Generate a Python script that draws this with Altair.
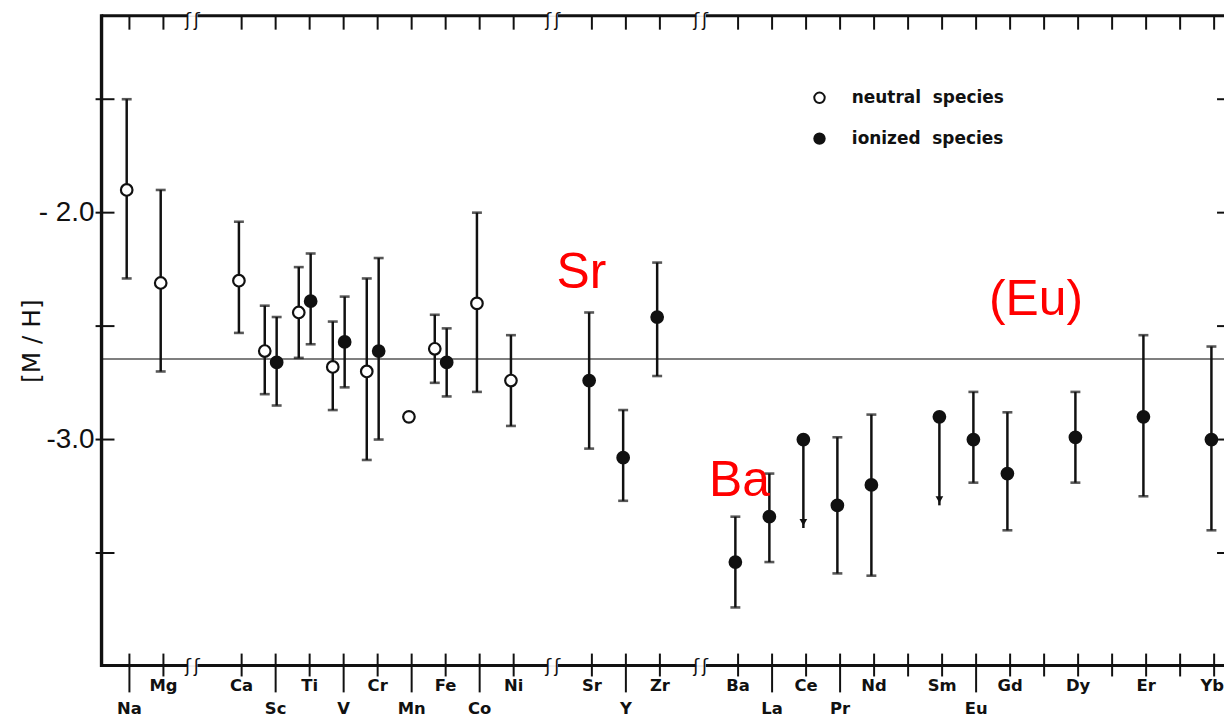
import altair as alt
import pandas as pd

# ---------------- data ----------------
# element groups along the broken abscissa (gaps between groups)
group_elements = [
    ["Na", "Mg"],
    ["Ca", "Sc", "Ti", "V", "Cr", "Mn", "Fe", "Co", "Ni"],
    ["Sr", "Y", "Zr"],
    ["Ba", "La", "Ce", "Pr", "Nd", "Pm", "Sm", "Eu", "Gd", "Tb", "Dy", "Ho", "Er", "Tm", "Yb"],
]
group_starts = [0.0, 3.3, 13.6, 17.9]
axis_breaks = [1.85, 12.45, 16.8]
lower_row = ["Na", "Sc", "V", "Mn", "Co", "Y", "La", "Pr", "Eu"]
unlabeled = ["Pm", "Tb", "Ho", "Tm"]

# neutral species  [M/H], upper end of bar, lower end of bar
neutral_el = ["Na", "Mg", "Ca", "Sc", "Ti", "V", "Cr", "Mn", "Fe", "Co", "Ni"]
neutral_val = [-1.90, -2.31, -2.30, -2.61, -2.44, -2.68, -2.70, -2.90, -2.60, -2.40, -2.74]
neutral_hi = [-1.50, -1.90, -2.04, -2.41, -2.24, -2.48, -2.29, None, -2.45, -2.00, -2.54]
neutral_lo = [-2.29, -2.70, -2.53, -2.80, -2.64, -2.87, -3.09, None, -2.75, -2.79, -2.94]

# ionized species
ionized_el = ["Sc", "Ti", "V", "Cr", "Fe", "Sr", "Y", "Zr", "Ba", "La", "Ce", "Pr", "Nd",
              "Sm", "Eu", "Gd", "Dy", "Er", "Yb"]
ionized_val = [-2.66, -2.39, -2.57, -2.61, -2.66, -2.74, -3.08, -2.46, -3.54, -3.34, -3.00,
               -3.29, -3.20, -2.90, -3.00, -3.15, -2.99, -2.90, -3.00]
ionized_hi = [-2.46, -2.18, -2.37, -2.20, -2.51, -2.44, -2.87, -2.22, -3.34, -3.15, None,
              -2.99, -2.89, None, -2.79, -2.88, -2.79, -2.54, -2.59]
ionized_lo = [-2.85, -2.58, -2.77, -3.00, -2.81, -3.04, -3.27, -2.72, -3.74, -3.54, None,
              -3.59, -3.60, None, -3.19, -3.40, -3.19, -3.25, -3.40]
# upper limits (arrows pointing down)
limit_el = ["Ce", "Sm"]
limit_end = [-3.39, -3.29]

mean_level = -2.645
y_tick_values = [-1.5, -2.0, -2.5, -3.0, -3.5]
y_tick_labels = {-2.0: "- 2.0", -3.0: "-3.0"}

annot_text = ["Sr", "Ba", "(Eu)"]
annot_x = [13.29, 17.94, 26.66]
annot_y = [-2.33, -3.25, -2.45]

# ---------------- tables ----------------
pos = {}
for start, els in zip(group_starts, group_elements):
    for i, e in enumerate(els):
        pos[e] = start + i

XMIN, XMAX = -0.82, 32.19
YMIN, YMAX = -3.996, -1.132
W, H = 1128, 653

neutral_set, ionized_set = set(neutral_el), set(ionized_el)
rows = []
for e, v, hi, lo in zip(neutral_el, neutral_val, neutral_hi, neutral_lo):
    off = -0.32 if e in ionized_set else -0.08
    rows.append(dict(el=e, species="neutral\u00a0 species", x=pos[e] + off, val=v, hi=hi, lo=lo))
for e, v, hi, lo in zip(ionized_el, ionized_val, ionized_hi, ionized_lo):
    off = 0.03 if e in neutral_set else -0.08
    rows.append(dict(el=e, species="ionized\u00a0 species", x=pos[e] + off, val=v, hi=hi, lo=lo))
pts = pd.DataFrame(rows)
bars = pts.dropna(subset=["hi"])

lim = pts[pts.el.isin(limit_el) & (pts.species.str.startswith("ionized"))].copy()
lim["end"] = [limit_end[limit_el.index(e)] for e in lim.el]
lim["head"] = lim["end"] + 0.025

ticks = pd.DataFrame([dict(el=e, x=p, row=("lower" if e in lower_row else ("none" if e in unlabeled else "upper")))
                      for e, p in pos.items()])

edges = [XMIN]
for b in axis_breaks:
    edges += [b - 0.15, b + 0.15]
edges.append(XMAX)
segs = pd.DataFrame([dict(x=edges[i], x2=edges[i + 1]) for i in range(0, len(edges), 2)])
brk = pd.DataFrame([dict(x=b + d) for b in axis_breaks for d in (-0.13, 0.13)])

yt = pd.DataFrame(dict(y=y_tick_values))
ytl = pd.DataFrame(dict(y=list(y_tick_labels.keys()), t=list(y_tick_labels.values())))
ann = pd.DataFrame(dict(t=annot_text, x=annot_x, y=annot_y))
mean_df = pd.DataFrame(dict(y=[mean_level]))

xs = alt.Scale(domain=[XMIN, XMAX], nice=False, zero=False)
ys = alt.Scale(domain=[YMIN, YMAX], nice=False, zero=False)
INK = "#111111"

def X(f="x"):
    return alt.X(f"{f}:Q", scale=xs, axis=None)

def Y(f):
    return alt.Y(f"{f}:Q", scale=ys, axis=None)

layers = []

# mean line
layers.append(alt.Chart(mean_df).mark_rule(color="#555555", strokeWidth=1.4).encode(y=Y("y")))

# frame
layers.append(alt.Chart(segs).mark_rule(color=INK, strokeWidth=3).encode(
    x=X("x"), x2="x2:Q", y=alt.value(0)))
layers.append(alt.Chart(segs).mark_rule(color=INK, strokeWidth=3).encode(
    x=X("x"), x2="x2:Q", y=alt.value(H)))
layers.append(alt.Chart(mean_df).mark_rule(color=INK, strokeWidth=3.4).encode(
    x=alt.value(0), y=alt.value(-1.5), y2=alt.value(H + 1.5)))
for yy, dy in ((0, 5), (H, 2)):
    layers.append(alt.Chart(brk).mark_text(text="ʃ", font="DejaVu Sans", fontSize=18,
                                           color=INK, baseline="middle", dy=dy).encode(
        x=X("x"), y=alt.value(yy)))

# axis ticks
layers.append(alt.Chart(ticks).mark_rule(color=INK, strokeWidth=2).encode(
    x=X("x"), y=alt.value(0), y2=alt.value(14)))
layers.append(alt.Chart(ticks).transform_filter("datum.row != 'lower'").mark_rule(
    color=INK, strokeWidth=2).encode(x=X("x"), y=alt.value(H - 12), y2=alt.value(H + 11)))
layers.append(alt.Chart(ticks).transform_filter("datum.row == 'lower'").mark_rule(
    color=INK, strokeWidth=2).encode(x=X("x"), y=alt.value(H - 12), y2=alt.value(H + 27)))
layers.append(alt.Chart(yt).mark_rule(color=INK, strokeWidth=2).encode(
    y=Y("y"), x=alt.value(-6), x2=alt.value(13)))
layers.append(alt.Chart(yt).mark_rule(color=INK, strokeWidth=2).encode(
    y=Y("y"), x=alt.value(W - 7), x2=alt.value(W)))

# axis labels
lab = dict(font="DejaVu Sans", fontSize=16.5, fontWeight="bold", color=INK, baseline="middle")
layers.append(alt.Chart(ticks).transform_filter("datum.row == 'upper' && datum.el != 'Yb'")
              .mark_text(**lab).encode(x=X("x"), y=alt.value(H + 21), text="el:N"))
layers.append(alt.Chart(ticks).transform_filter("datum.el == 'Yb'")
              .mark_text(align="right", **lab).encode(x=alt.value(W), y=alt.value(H + 21), text="el:N"))
layers.append(alt.Chart(ticks).transform_filter("datum.row == 'lower'").mark_text(**lab).encode(
    x=X("x"), y=alt.value(H + 44), text="el:N"))
layers.append(alt.Chart(ytl).mark_text(font="Liberation Sans", fontSize=28, color=INK,
                                      align="right", baseline="middle").encode(
    y=Y("y"), x=alt.value(-7), text="t:N"))
layers.append(alt.Chart(mean_df).mark_text(text="[M / H]", font="DejaVu Sans", fontSize=25,
                                          color=INK, angle=270, baseline="middle").encode(
    x=alt.value(-70), y=alt.value(327)))

# error bars
layers.append(alt.Chart(bars).mark_rule(color=INK, strokeWidth=2.5).encode(
    x=X("x"), y=Y("lo"), y2="hi:Q"))
for f in ("lo", "hi"):
    layers.append(alt.Chart(bars).mark_tick(color=INK, orient="horizontal", size=10,
                                            thickness=2.6).encode(x=X("x"), y=Y(f)))
# upper-limit arrows
layers.append(alt.Chart(lim).mark_rule(color=INK, strokeWidth=2.5).encode(
    x=X("x"), y=Y("val"), y2="end:Q"))
layers.append(alt.Chart(lim).mark_point(shape="triangle-down", filled=True, color=INK,
                                        size=60, opacity=1).encode(x=X("x"), y=Y("head")))

# points
layers.append(alt.Chart(pts).mark_circle(stroke=INK, strokeWidth=2.2, size=135, opacity=1).encode(
    x=X("x"), y=Y("val"),
    fill=alt.Fill("species:N",
                  scale=alt.Scale(domain=["neutral\u00a0 species", "ionized\u00a0 species"],
                                  range=["white", INK]),
                  legend=alt.Legend(title=None, orient="none", legendX=713, legendY=74,
                                    symbolType="circle", symbolSize=110,
                                    symbolStrokeColor=INK, symbolStrokeWidth=2,
                                    symbolOpacity=1, labelFont="DejaVu Sans",
                                    labelFontSize=17, labelFontWeight="bold",
                                    labelColor=INK, rowPadding=22, labelOffset=24,
                                    padding=0))))

# annotations
layers.append(alt.Chart(ann).mark_text(font="Liberation Sans", fontSize=50, color="#FF0000",
                                      align="center", baseline="alphabetic").encode(
    x=X("x"), y=Y("y"), text="t:N"))

chart = alt.layer(*layers).properties(
    width=W, height=H,
    autosize=alt.AutoSizeParams(type="none"),
    padding={"left": 94, "top": 6, "right": 0, "bottom": 56},
).configure_view(stroke=None).configure(background="white")

chart.save("out.html", embed_options={"renderer": "svg", "actions": False})
